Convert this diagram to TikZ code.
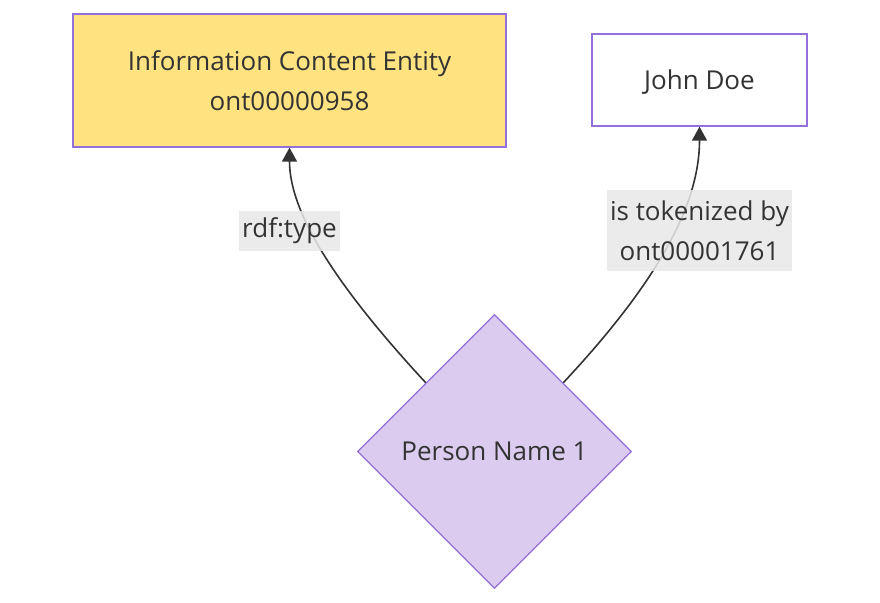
\documentclass[tikz,border=0pt]{standalone}
\usepackage{fontspec}
\setmainfont{Open Sans}
\usetikzlibrary{shapes.geometric,arrows.meta}
\definecolor{txt}{HTML}{333333}
\definecolor{strk}{HTML}{9370DB}
\definecolor{yel}{HTML}{FFE381}
\definecolor{lav}{HTML}{DBCBEF}
\definecolor{lblbg}{HTML}{E8E8E8}
\tikzset{
  every node/.style={font=\fontsize{26}{40}\selectfont, text=txt},
  box/.style={draw=strk, line width=1.3pt, rectangle, inner sep=0pt, align=center},
  dia/.style={draw=strk, line width=1.3pt, diamond, aspect=1, inner sep=0pt, fill=lav},
  lbl/.style={fill=lblbg, fill opacity=0.85, text opacity=1, inner sep=0pt, align=center},
  edge/.style={draw=txt, line width=1.6pt, -{Triangle[length=14pt,width=15pt]}},
}
\begin{document}
\begin{tikzpicture}[x=1pt,y=-1pt]
\useasboundingbox (0,0) rectangle (880,602);
\node[box, fill=yel, minimum width=433pt, minimum height=133pt] (ice) at (289.5,80.5) {Information Content Entity\\ont00000958};
\node[box, fill=white, minimum width=215pt, minimum height=92pt] (jd) at (699.5,80) {\raisebox{-2pt}[\height][\depth]{John Doe}};
\node[dia, minimum width=274pt, minimum height=274pt] (p) at (494.5,451.5) {Person Name 1};
\draw[edge] (p.north west) .. controls (340,290) and (289.5,215) .. (ice.south);
\draw[edge] (p.north east) .. controls (650,290) and (699.5,210) .. (jd.south);
\node[lbl, minimum width=101pt, minimum height=40pt] (l1) at (289.5,231) {rdf:type};
\node[lbl, minimum width=185pt, minimum height=81pt] (l2) at (699.5,230.5) {is tokenized by\\ont00001761};
\end{tikzpicture}
\end{document}
